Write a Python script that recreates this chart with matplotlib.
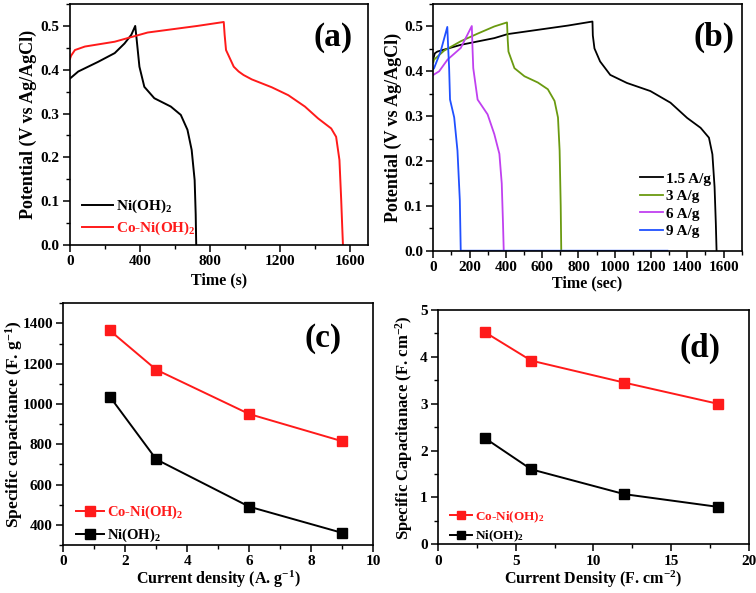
import matplotlib
matplotlib.use("Agg")
import matplotlib.pyplot as plt
from matplotlib.ticker import MultipleLocator, FormatStrFormatter

plt.rcParams["font.family"] = ["Liberation Serif", "DejaVu Serif"]
plt.rcParams["font.weight"] = "bold"
plt.rcParams["axes.labelweight"] = "bold"
plt.rcParams["mathtext.fontset"] = "custom"
plt.rcParams["mathtext.rm"] = "Liberation Serif:bold"
plt.rcParams["mathtext.it"] = "Liberation Serif:bold"
plt.rcParams["mathtext.bf"] = "Liberation Serif:bold"
plt.rcParams["mathtext.default"] = "rm"

RED = "#ff1a1a"
GREEN = "#6a9a10"
VIOLET = "#c040f0"
BLUE = "#2050ff"

# (a) GCD, 1.5 A/g
a_ni_t = [0, 47, 160, 255, 311, 350, 372, 380, 396, 424, 481, 575, 632, 670, 694, 711, 717, 720]
a_ni_v = [0.380, 0.396, 0.418, 0.438, 0.460, 0.480, 0.500, 0.470, 0.407, 0.361, 0.335, 0.316, 0.297,
          0.263, 0.217, 0.148, 0.070, 0.0]
a_co_t = [0, 6, 28, 85, 255, 443, 726, 877, 882, 890, 934, 962, 990, 1037, 1151, 1245, 1340, 1415,
          1490, 1518, 1537, 1547, 1553, 1557]
a_co_v = [0.425, 0.432, 0.445, 0.453, 0.464, 0.485, 0.500, 0.509, 0.480, 0.445, 0.407, 0.396, 0.388,
          0.378, 0.360, 0.342, 0.316, 0.289, 0.266, 0.247, 0.194, 0.103, 0.040, 0.0]

# (b) GCD, different current densities
b_15_t = [0, 8, 22, 151, 336, 410, 742, 877, 879, 888, 919, 975, 1067, 1196, 1307, 1399, 1473, 1519,
          1538, 1550, 1557, 1561]
b_15_v = [0.428, 0.440, 0.444, 0.459, 0.474, 0.483, 0.502, 0.511, 0.480, 0.451, 0.422, 0.392, 0.374,
          0.356, 0.330, 0.296, 0.274, 0.252, 0.215, 0.142, 0.060, 0.0]
b_3_t = [0, 4, 59, 151, 244, 336, 406, 410, 414, 447, 502, 576, 631, 668, 687, 696, 702, 705]
b_3_v = [0.420, 0.426, 0.446, 0.467, 0.484, 0.500, 0.509, 0.470, 0.444, 0.407, 0.389, 0.375, 0.360,
         0.334, 0.297, 0.223, 0.100, 0.0]
b_6_t = [0, 4, 32, 78, 151, 212, 216, 220, 244, 299, 336, 364, 377, 384, 388]
b_6_v = [0.392, 0.393, 0.400, 0.426, 0.452, 0.501, 0.450, 0.407, 0.337, 0.304, 0.260, 0.216, 0.150,
         0.060, 0.0]
b_9_t = [0, 4, 40, 77, 82, 87, 92, 115, 133, 146, 151, 1290]
b_9_v = [0.405, 0.407, 0.444, 0.499, 0.450, 0.407, 0.337, 0.297, 0.223, 0.112, 0.0, 0.0]

# (c) specific capacitance vs current density (A/g)
c_j = [1.5, 3, 6, 9]
c_co = [1365, 1170, 950, 815]
c_ni = [1037, 725, 490, 360]

# (d) areal capacitance
d_j = [3, 6, 12, 18]
d_co = [4.53, 3.92, 3.45, 3.00]
d_ni = [2.27, 1.60, 1.07, 0.80]


def style_axes(ax):
    for s in ax.spines.values():
        s.set_linewidth(1.2)
    ax.tick_params(which="major", direction="out", length=5, width=1.1, labelsize=11, pad=2.5)
    ax.tick_params(which="minor", direction="out", length=3, width=1.0)


fig = plt.figure(figsize=(7.56, 5.93), dpi=100)

# ---- (a)
ax = fig.add_axes([0.0926, 0.5868, 0.3942, 0.4064])
ax.plot(a_ni_t, a_ni_v, color="black", lw=1.4, label="Ni(OH)$_2$")
ax.plot(a_co_t, a_co_v, color=RED, lw=1.4, label="Co-Ni(OH)$_2$")
ax.set_xlim(0, 1700)
ax.set_ylim(0, 0.55)
ax.xaxis.set_major_locator(MultipleLocator(400))
ax.xaxis.set_minor_locator(MultipleLocator(200))
ax.yaxis.set_major_locator(MultipleLocator(0.1))
ax.yaxis.set_minor_locator(MultipleLocator(0.05))
ax.yaxis.set_major_formatter(FormatStrFormatter("%.1f"))
style_axes(ax)
ax.set_xlabel("Time (s)", fontsize=11.5)
ax.set_ylabel("Potential (V vs Ag/AgCl)", fontsize=13)
ax.xaxis.set_label_coords(0.5, -0.115)
ax.yaxis.set_label_coords(-0.11, 0.5)
leg = ax.legend(loc="lower left", bbox_to_anchor=(-0.005, -0.025), frameon=False, fontsize=11,
                handlelength=2.0, labelspacing=0.3, handletextpad=0.2)
leg.get_texts()[1].set_color(RED)
ax.text(0.883, 0.863, "(a)", transform=ax.transAxes, fontsize=24, ha="center", va="center")

# ---- (b)
ax = fig.add_axes([0.5732, 0.5772, 0.408, 0.416])
ax.plot(b_15_t, b_15_v, color="black", lw=1.3, label="1.5 A/g")
ax.plot(b_3_t, b_3_v, color=GREEN, lw=1.3, label="3 A/g")
ax.plot(b_6_t, b_6_v, color=VIOLET, lw=1.3, label="6 A/g")
ax.plot(b_9_t, b_9_v, color=BLUE, lw=1.3, label="9 A/g")
ax.set_xlim(0, 1700)
ax.set_ylim(0, 0.55)
ax.xaxis.set_major_locator(MultipleLocator(200))
ax.xaxis.set_minor_locator(MultipleLocator(100))
ax.yaxis.set_major_locator(MultipleLocator(0.1))
ax.yaxis.set_minor_locator(MultipleLocator(0.05))
ax.yaxis.set_major_formatter(FormatStrFormatter("%.1f"))
style_axes(ax)
ax.set_xlabel("Time (sec)", fontsize=11.5)
ax.set_ylabel("Potential (V vs Ag/AgCl)", fontsize=13)
ax.xaxis.set_label_coords(0.5, -0.1)
ax.yaxis.set_label_coords(-0.1, 0.5)
ax.legend(loc="lower left", bbox_to_anchor=(0.625, -0.005), frameon=False, fontsize=11,
          handlelength=1.5, labelspacing=0.25, handletextpad=0.2)
ax.text(0.909, 0.866, "(b)", transform=ax.transAxes, fontsize=24, ha="center", va="center")

# ---- (c)
ax = fig.add_axes([0.0837, 0.081, 0.410, 0.4076])
ax.plot(c_j, c_co, color=RED, lw=1.4, marker="s", ms=7, label="Co-Ni(OH)$_2$")
ax.plot(c_j, c_ni, color="black", lw=1.4, marker="s", ms=7, label="Ni(OH)$_2$")
ax.set_xlim(0, 10)
ax.set_ylim(300, 1500)
ax.xaxis.set_major_locator(MultipleLocator(2))
ax.xaxis.set_minor_locator(MultipleLocator(1))
ax.yaxis.set_major_locator(MultipleLocator(200))
ax.yaxis.set_minor_locator(MultipleLocator(100))
style_axes(ax)
ax.set_xlabel("Current density (A. g$^{-1}$)", fontsize=11.5)
ax.set_ylabel("Specific capacitance (F. g$^{-1}$)", fontsize=12.5)
ax.xaxis.set_label_coords(0.5, -0.1)
ax.yaxis.set_label_coords(-0.123, 0.5)
leg = ax.legend(loc="lower left", bbox_to_anchor=(0.0, -0.05), frameon=False, fontsize=10.5,
                handlelength=1.9, labelspacing=0.35, handletextpad=0.2)
leg.get_texts()[0].set_color(RED)
ax.text(0.839, 0.856, "(c)", transform=ax.transAxes, fontsize=24, ha="center", va="center")

# ---- (d)
ax = fig.add_axes([0.5794, 0.0821, 0.411, 0.3951])
ax.plot(d_j, d_co, color=RED, lw=1.4, marker="s", ms=7.5, label="Co-Ni(OH)$_2$")
ax.plot(d_j, d_ni, color="black", lw=1.4, marker="s", ms=7.5, label="Ni(OH)$_2$")
ax.set_xlim(0, 20)
ax.set_ylim(0, 5)
ax.xaxis.set_major_locator(MultipleLocator(5))
ax.xaxis.set_minor_locator(MultipleLocator(2.5))
ax.yaxis.set_major_locator(MultipleLocator(1))
ax.yaxis.set_minor_locator(MultipleLocator(0.5))
style_axes(ax)
ax.set_xlabel("Current Density (F. cm$^{-2}$)", fontsize=11.5)
ax.set_ylabel("Specific Capacitanace (F. cm$^{-2}$)", fontsize=12)
ax.xaxis.set_label_coords(0.5, -0.105)
ax.yaxis.set_label_coords(-0.074, 0.5)
leg = ax.legend(loc="lower left", bbox_to_anchor=(0.0, -0.05), frameon=False, fontsize=9.5,
                handlelength=1.7, labelspacing=0.3, handletextpad=0.2, markerscale=0.8)
leg.get_texts()[0].set_color(RED)
ax.text(0.842, 0.838, "(d)", transform=ax.transAxes, fontsize=24, ha="center", va="center")

fig.savefig("out.png", dpi=100)
